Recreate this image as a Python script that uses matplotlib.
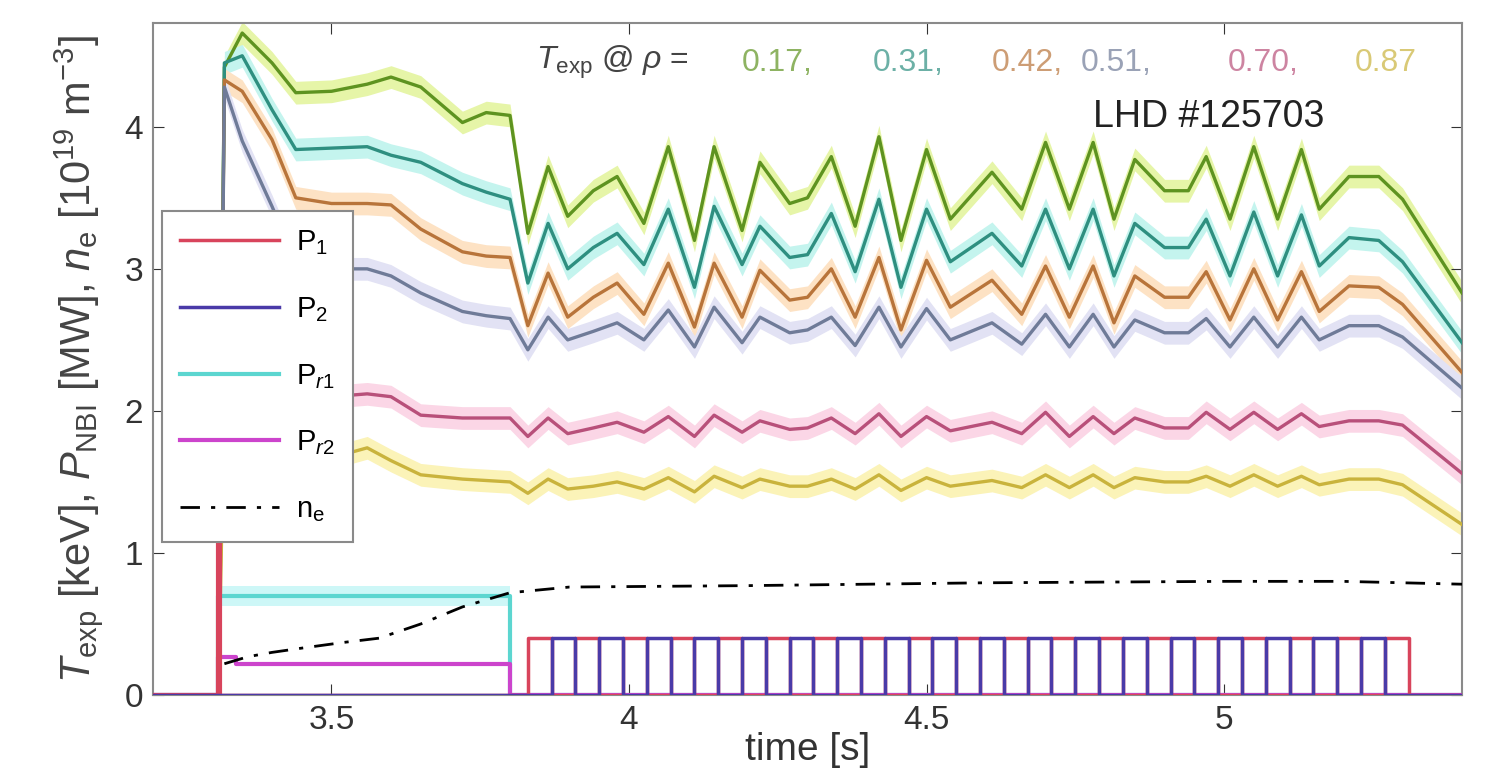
import numpy as np
import matplotlib
matplotlib.use("Agg")
import matplotlib.pyplot as plt

plt.rcParams['font.family'] = ['Liberation Sans', 'DejaVu Sans']
plt.rcParams['mathtext.fontset'] = 'custom'
plt.rcParams['mathtext.rm'] = 'Liberation Sans'
plt.rcParams['mathtext.it'] = 'Liberation Sans:italic'

# time base of the temperature traces [s]
time_T = [3.20, 3.31, 3.32, 3.35, 3.40, 3.44, 3.50, 3.56, 3.60, 3.65, 3.72, 3.76,
          3.80, 3.83, 3.864, 3.897, 3.94, 3.98, 4.025, 4.066, 4.11, 4.143, 4.19, 4.22,
          4.27, 4.30, 4.34, 4.38, 4.42, 4.457, 4.50, 4.54, 4.61, 4.66, 4.70, 4.74,
          4.78, 4.815, 4.85, 4.90, 4.94, 4.97, 5.01, 5.05, 5.09, 5.13, 5.16, 5.21,
          5.26, 5.30, 5.40]

# electron temperature [keV] at each rho
T_017 = [0, 0, 4.42, 4.66, 4.45, 4.24, 4.25, 4.30, 4.35, 4.28, 4.03, 4.10,
         4.08, 3.25, 3.72, 3.37, 3.55, 3.65, 3.32, 3.86, 3.20, 3.86, 3.27, 3.75,
         3.46, 3.50, 3.79, 3.30, 3.93, 3.20, 3.84, 3.35, 3.68, 3.42, 3.89, 3.42,
         3.89, 3.35, 3.77, 3.55, 3.55, 3.79, 3.35, 3.86, 3.35, 3.84, 3.42, 3.65,
         3.65, 3.49, 2.83]
T_031 = [0, 0, 4.45, 4.50, 4.12, 3.84, 3.85, 3.86, 3.80, 3.75, 3.60, 3.54,
         3.49, 2.90, 3.32, 3.00, 3.15, 3.25, 3.03, 3.42, 2.87, 3.44, 3.03, 3.30,
         3.08, 3.10, 3.39, 2.98, 3.49, 2.87, 3.42, 3.05, 3.25, 3.02, 3.42, 3.00,
         3.42, 2.95, 3.32, 3.15, 3.15, 3.35, 2.95, 3.40, 2.95, 3.38, 3.02, 3.22,
         3.20, 3.05, 2.48]
T_042 = [0, 0, 4.33, 4.25, 3.91, 3.50, 3.46, 3.46, 3.45, 3.28, 3.12, 3.09,
         3.08, 2.60, 2.97, 2.66, 2.80, 2.90, 2.68, 3.04, 2.59, 3.04, 2.66, 2.99,
         2.78, 2.80, 3.00, 2.66, 3.08, 2.57, 3.06, 2.73, 2.92, 2.68, 3.02, 2.66,
         3.02, 2.62, 2.95, 2.80, 2.80, 2.98, 2.64, 3.00, 2.64, 2.98, 2.70, 2.88,
         2.87, 2.75, 2.27]
T_051 = [0, 0, 4.28, 3.90, 3.44, 3.05, 3.00, 3.00, 2.95, 2.83, 2.70, 2.67,
         2.65, 2.43, 2.66, 2.50, 2.56, 2.62, 2.50, 2.71, 2.45, 2.73, 2.48, 2.66,
         2.55, 2.57, 2.66, 2.46, 2.73, 2.45, 2.72, 2.50, 2.62, 2.47, 2.68, 2.45,
         2.68, 2.45, 2.64, 2.55, 2.55, 2.65, 2.45, 2.66, 2.45, 2.66, 2.50, 2.60,
         2.60, 2.52, 2.16]
T_070 = [0, 0, 2.70, 2.55, 2.35, 2.20, 2.10, 2.12, 2.10, 1.97, 1.95, 1.95,
         1.95, 1.82, 1.95, 1.84, 1.88, 1.92, 1.85, 1.96, 1.82, 1.97, 1.85, 1.93,
         1.87, 1.88, 1.95, 1.84, 1.98, 1.82, 1.96, 1.86, 1.92, 1.84, 1.99, 1.82,
         1.96, 1.84, 1.95, 1.88, 1.88, 1.99, 1.87, 1.99, 1.87, 1.98, 1.89, 1.93,
         1.93, 1.90, 1.56]
T_087 = [0, 0, 2.10, 2.00, 1.85, 1.72, 1.67, 1.74, 1.65, 1.55, 1.52, 1.51,
         1.50, 1.42, 1.52, 1.45, 1.47, 1.50, 1.45, 1.53, 1.43, 1.54, 1.46, 1.52,
         1.47, 1.47, 1.52, 1.45, 1.55, 1.44, 1.53, 1.47, 1.51, 1.46, 1.55, 1.46,
         1.55, 1.46, 1.53, 1.50, 1.50, 1.54, 1.47, 1.55, 1.47, 1.54, 1.48, 1.52,
         1.52, 1.48, 1.20]

rho_labels = ['0.17', '0.31', '0.42', '0.51', '0.70', '0.87']

# NBI powers [MW]
P3_t = [3.20, 3.31, 3.31, 3.80, 3.80, 5.40]
P3_v = [0, 0, 0.70, 0.70, 0, 0]
P4_t = [3.20, 3.31, 3.31, 3.34, 3.34, 3.80, 3.80, 5.40]
P4_v = [0, 0, 0.27, 0.27, 0.22, 0.22, 0, 0]
P1_kick_t = [3.20, 3.31, 3.31, 3.312, 3.312]
P1_kick_v = [0, 0, 1.30, 1.30, 0]
# modulated beams: switch-on times, on for 40 ms each
P1_on = [3.83, 3.91, 3.99, 4.07, 4.15, 4.23, 4.31, 4.39, 4.47, 4.55,
         4.63, 4.71, 4.79, 4.87, 4.95, 5.03, 5.11, 5.19, 5.27]
P2_on = [3.87, 3.95, 4.03, 4.11, 4.19, 4.27, 4.35, 4.43, 4.51, 4.59,
         4.67, 4.75, 4.83, 4.91, 4.99, 5.07, 5.15, 5.23]
pulse_len = 0.04
pulse_P = 0.40

# line-averaged density [1e19 m^-3]
ne_t = [3.32, 3.36, 3.40, 3.45, 3.52, 3.58, 3.65, 3.72, 3.80, 3.90, 4.20, 4.60, 5.00, 5.20, 5.40]
ne_v = [0.22, 0.27, 0.30, 0.33, 0.37, 0.40, 0.50, 0.62, 0.72, 0.76, 0.77, 0.79, 0.80, 0.80, 0.78]


def pulse_train(on_times, width, height, t0=3.2, t1=5.4):
    t = [t0]
    v = [0]
    for ts in on_times:
        t += [ts, ts, ts + width, ts + width]
        v += [0, height, height, 0]
    t.append(t1)
    v.append(0)
    return t, v


fig = plt.figure(figsize=(14.91, 7.70), dpi=100)
ax = fig.add_axes([0.1026, 0.0974, 0.8780, 0.8726])

T_sets = [T_017, T_031, T_042, T_051, T_070, T_087]
T_cols = ['#5e9320', '#2e8f80', '#b8743a', '#6f7b98', '#b8507a', '#c9b33c']
T_halo = ['#e6f5a8', '#c4f4ee', '#fde2c4', '#e2e2f4', '#fbd6e6', '#fbf3b8']

for T, c, h in zip(T_sets, T_cols, T_halo):
    T = np.array(T)
    ax.fill_between(time_T, T - 0.08, T + 0.08, where=T > 0, color=h, lw=0, zorder=1)
for T, c in zip(T_sets, T_cols):
    ax.plot(time_T, T, color=c, lw=2.4, zorder=3)

# beam powers
ax.fill_between(P3_t, np.array(P3_v) - 0.07, np.array(P3_v) + 0.07,
                where=np.array(P3_v) > 0, color='#cdf7f7', lw=0, zorder=1)
l3, = ax.plot(P3_t, P3_v, color='#5cd6d0', lw=3, zorder=4)
l4, = ax.plot(P4_t, P4_v, color='#cc44cc', lw=3, zorder=4)
ax.plot(P1_kick_t, P1_kick_v, color='#d8445c', lw=3, zorder=4)
t1, v1 = pulse_train(P1_on, pulse_len, pulse_P)
t2, v2 = pulse_train(P2_on, pulse_len, pulse_P)
l1, = ax.plot(t1, v1, color='#d8445c', lw=2.5, zorder=5)
l2, = ax.plot(t2, v2, color='#4a3aa8', lw=2.5, zorder=5)
lne, = ax.plot(ne_t, ne_v, color='black', lw=2, ls=(0, (7, 4, 1.5, 4)), zorder=6)

ax.set_xlim(3.2, 5.4)
ax.set_ylim(0, 4.73)
ax.set_xticks([3.5, 4, 4.5, 5])
ax.set_xticklabels(['3.5', '4', '4.5', '5'])
ax.set_yticks([0, 1, 2, 3, 4])
ax.tick_params(direction='in', length=8, labelsize=24, top=True, right=True,
               colors='#333333', pad=7)
for s in ax.spines.values():
    s.set_color('#8a8a8a')
    s.set_linewidth(1.5)

ax.set_xlabel('time [s]', fontsize=28, labelpad=-3, color='#333333')
ax.set_ylabel(r'$T_{\rm exp}$ [keV], $P_{\rm NBI}$ [MW], $n_{\rm e}$ [10$^{19}$ m$^{-3}$]',
              fontsize=30, labelpad=14, color='#444444')

leg = ax.legend([l1, l2, l3, l4, lne],
                [r'P$_1$', r'P$_2$', r'P$_{r1}$', r'P$_{r2}$', r'n$_{\rm e}$'],
                loc='upper left', bbox_to_anchor=(-0.004, 0.742), fontsize=21,
                handlelength=3.4, labelspacing=1.3, borderpad=0.6,
                handletextpad=0.6, fancybox=False, framealpha=1,
                edgecolor='#8a8a8a')
leg.get_frame().set_linewidth(1.5)
leg.set_zorder(10)

# header: T_exp at rho = ...
ax.text(3.844, 4.45, r'$T_{\rm exp}$ @ $\rho$ =', fontsize=23, color='#444444',
        va='center', zorder=8)
rho_x = [4.19, 4.41, 4.61, 4.76, 5.007, 5.22]
for x, lab, c in zip(rho_x, rho_labels, T_cols):
    sep = ',' if lab != rho_labels[-1] else ''
    ax.text(x, 4.45, lab + sep, fontsize=23, color=c, alpha=0.7, va='center', zorder=8)

ax.text(4.78, 4.07, 'LHD #125703', fontsize=27, color='#222222', va='center', zorder=8)

fig.savefig('out.png', dpi=100)
